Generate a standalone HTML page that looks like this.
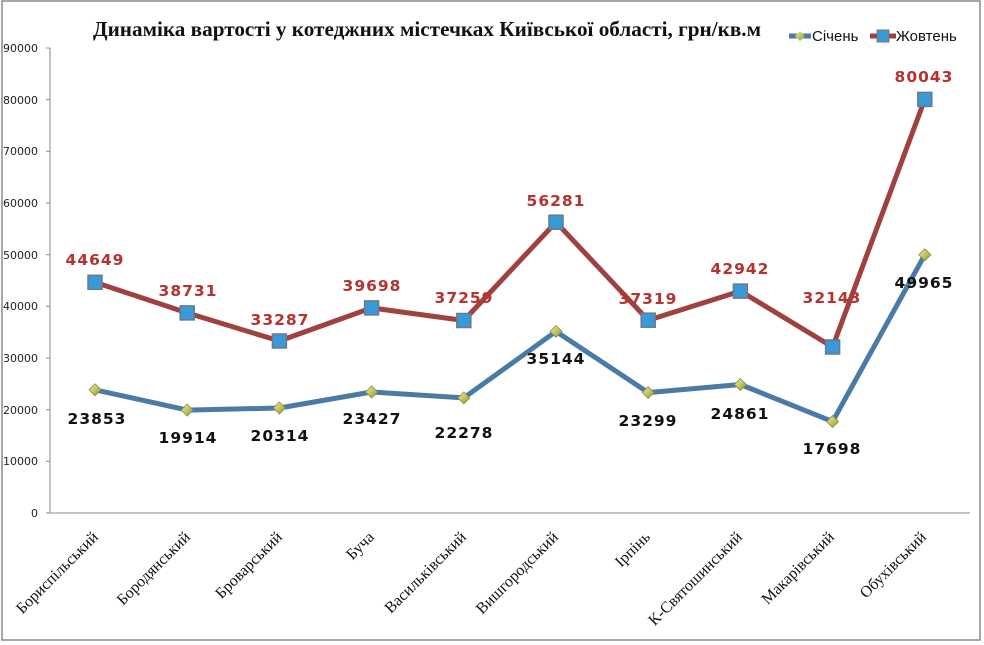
<!DOCTYPE html>
<html><head><meta charset="utf-8"><style>
body{margin:0;background:#fff;}
svg{display:block;}
.ax{font-family:"DejaVu Sans","Liberation Sans",sans-serif;font-size:11px;fill:#222;}
.cat{font-family:"Liberation Serif",serif;font-size:16px;fill:#111;}
.r{font-family:"DejaVu Sans","Liberation Sans",sans-serif;font-weight:bold;font-size:15.5px;fill:#b5322e;letter-spacing:1px;}
.b{font-family:"DejaVu Sans","Liberation Sans",sans-serif;font-weight:bold;font-size:15.5px;fill:#111;letter-spacing:1px;}
</style></head><body>
<svg width="984" height="645" viewBox="0 0 984 645" xmlns="http://www.w3.org/2000/svg">
<defs>
<linearGradient id="dg" x1="0" y1="0" x2="1" y2="1"><stop offset="0" stop-color="#f4f0a0"/><stop offset="1" stop-color="#8f9a20"/></linearGradient>
</defs>
<rect x="2" y="1" width="978" height="639" fill="#fff" stroke="#8a8a8a" stroke-width="1.5"/>
<text x="427" y="36" text-anchor="middle" font-family="Liberation Serif,serif" font-weight="bold" font-size="21" fill="#111" textLength="668" lengthAdjust="spacingAndGlyphs">Динаміка вартості у котеджних містечках Київської області, грн/кв.м</text>
<!-- legend -->
<line x1="789" y1="36" x2="811" y2="36" stroke="#4a7ba6" stroke-width="5"/>
<path d="M800 31 L805 36 L800 41 L795 36Z" fill="url(#dg)"/>
<text x="812" y="41" font-family="Liberation Sans,sans-serif" font-size="15" fill="#111">Січень</text>
<line x1="870" y1="36" x2="896" y2="36" stroke="#a0413f" stroke-width="5"/>
<rect x="877" y="30" width="12" height="12" fill="#3a9ad9" stroke="#777"/>
<text x="896" y="41" font-family="Liberation Sans,sans-serif" font-size="15" fill="#111">Жовтень</text>
<!-- axes -->
<g stroke="#888" stroke-width="1">
<line x1="50" y1="48" x2="50" y2="513"/>
<line x1="50" y1="513" x2="970" y2="513"/>
<line x1="46" y1="48" x2="50" y2="48"/><line x1="46" y1="99.7" x2="50" y2="99.7"/><line x1="46" y1="151.3" x2="50" y2="151.3"/><line x1="46" y1="203" x2="50" y2="203"/><line x1="46" y1="254.7" x2="50" y2="254.7"/><line x1="46" y1="306.3" x2="50" y2="306.3"/><line x1="46" y1="358" x2="50" y2="358"/><line x1="46" y1="409.7" x2="50" y2="409.7"/><line x1="46" y1="461.3" x2="50" y2="461.3"/><line x1="46" y1="513" x2="50" y2="513"/>
</g>
<g class="ax" text-anchor="end">
<text x="38" y="52">90000</text><text x="38" y="104">80000</text><text x="38" y="155">70000</text><text x="38" y="207">60000</text><text x="38" y="259">50000</text><text x="38" y="310">40000</text><text x="38" y="362">30000</text><text x="38" y="414">20000</text><text x="38" y="465">10000</text><text x="38" y="517">0</text>
</g>
<g class="cat" text-anchor="end">
<text transform="translate(99,538) rotate(-45)">Бориспільський</text>
<text transform="translate(191,538) rotate(-45)">Бородянський</text>
<text transform="translate(283,538) rotate(-45)">Броварський</text>
<text transform="translate(375,538) rotate(-45)">Буча</text>
<text transform="translate(467,538) rotate(-45)">Васильківський</text>
<text transform="translate(559,538) rotate(-45)">Вишгородський</text>
<text transform="translate(651,538) rotate(-45)">Ірпінь</text>
<text transform="translate(743,538) rotate(-45)">К-Святошинський</text>
<text transform="translate(835,538) rotate(-45)">Макарівський</text>
<text transform="translate(927,538) rotate(-45)">Обухівський</text>
</g>
<!-- Жовтень -->
<polyline fill="none" stroke="#a0413f" stroke-width="5" stroke-linejoin="round" points="95,282.3 187.2,312.9 279.4,341.0 371.6,307.9 463.8,320.5 556,222.2 648.2,320.2 740.4,291.1 832.6,347.0 924.8,99.4"/>
<g fill="#3a9ad9" stroke="#6a7a8a" stroke-width="1.5">
<rect x="88" y="275.3" width="14" height="14"/><rect x="180.2" y="305.9" width="14" height="14"/><rect x="272.4" y="334" width="14" height="14"/><rect x="364.6" y="300.9" width="14" height="14"/><rect x="456.8" y="313.5" width="14" height="14"/><rect x="549" y="215.2" width="14" height="14"/><rect x="641.2" y="313.2" width="14" height="14"/><rect x="733.4" y="284.1" width="14" height="14"/><rect x="825.6" y="340" width="14" height="14"/><rect x="917.8" y="92.4" width="14" height="14"/>
</g>
<!-- Січень -->
<polyline fill="none" stroke="#4a7ba6" stroke-width="5" stroke-linejoin="round" points="95,389.8 187.2,410.1 279.4,408.0 371.6,392.0 463.8,397.9 556,331.4 648.2,392.6 740.4,384.5 832.6,421.6 924.8,254.8"/>
<g fill="url(#dg)" stroke="#8a8a4a" stroke-width="0.8">
<path d="M95 383.8l6 6-6 6-6-6z"/><path d="M187.2 404.1l6 6-6 6-6-6z"/><path d="M279.4 402l6 6-6 6-6-6z"/><path d="M371.6 386l6 6-6 6-6-6z"/><path d="M463.8 391.9l6 6-6 6-6-6z"/><path d="M556 325.4l6 6-6 6-6-6z"/><path d="M648.2 386.6l6 6-6 6-6-6z"/><path d="M740.4 378.5l6 6-6 6-6-6z"/><path d="M832.6 415.6l6 6-6 6-6-6z"/><path d="M924.8 248.8l6 6-6 6-6-6z"/>
</g>
<g class="r" text-anchor="middle">
<text x="95" y="265">44649</text><text x="188" y="296">38731</text><text x="280" y="325">33287</text><text x="372" y="291">39698</text><text x="464" y="303">37259</text><text x="556" y="206">56281</text><text x="648" y="304">37319</text><text x="740" y="274">42942</text><text x="832" y="303">32143</text><text x="924" y="82">80043</text>
</g>
<g class="b" text-anchor="middle">
<text x="97" y="424">23853</text><text x="188" y="443">19914</text><text x="280" y="441">20314</text><text x="372" y="424">23427</text><text x="464" y="438">22278</text><text x="556" y="364">35144</text><text x="648" y="426">23299</text><text x="740" y="419">24861</text><text x="832" y="454">17698</text><text x="924" y="288">49965</text>
</g>
</svg>
</body></html>
